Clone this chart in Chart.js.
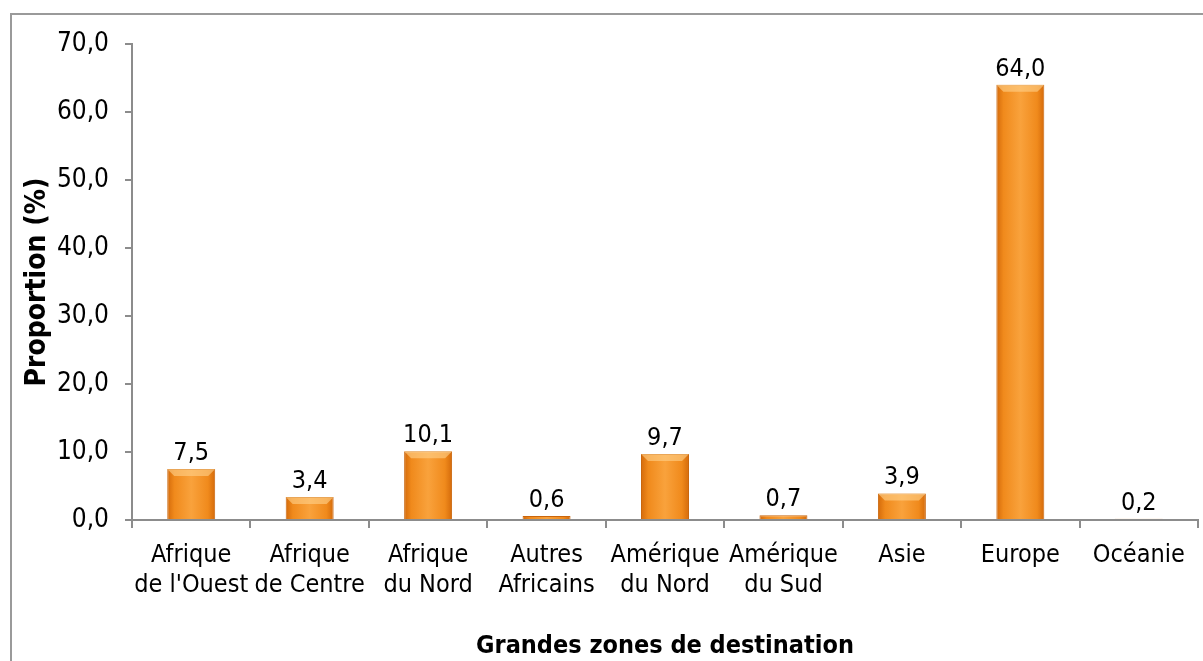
<!DOCTYPE html>
<html>
<head>
<meta charset="utf-8">
<script src="https://cdn.jsdelivr.net/npm/chart.js@4"></script>
<style>
  html, body { margin: 0; padding: 0; background: #fff; }
  #wrap { position: relative; width: 1203px; height: 661px; overflow: hidden; }
  #frame { position: absolute; left: 10px; top: 13px; width: 1300px; height: 700px;
           border-left: 2px solid #9a9a9a; border-top: 2px solid #9a9a9a; }
  #chart { position: absolute; left: 0; top: 0; }
</style>
</head>
<body>
<div id="wrap">
  <div id="frame"></div>
  <canvas id="chart" width="1203" height="661"></canvas>
</div>
<script>
// zones de destination
const zones = [
    ['Afrique', "de l'Ouest"],
    ['Afrique', 'de Centre'],
    ['Afrique', 'du Nord'],
    ['Autres', 'Africains'],
    ['Amérique', 'du Nord'],
    ['Amérique', 'du Sud'],
    ['Asie'],
    ['Europe'],
    ['Océanie']
];
const proportions = [7.5, 3.4, 10.1, 0.6, 9.7, 0.7, 3.9, 64.0, 0.2];
const yTicks = [0, 10, 20, 30, 40, 50, 60, 70];

const fontFam = '"DejaVu Sans Condensed", "DejaVu Sans", sans-serif';
const fmt = v => v.toFixed(1).replace('.', ',');

// dégradé orange façon Excel
function barFill(c) {
    const chart = c.chart;
    const x = chart.scales.x;
    if (!x || !chart.chartArea) return '#F39228';
    const cx = x.getPixelForValue(c.dataIndex);
    const half = (x.width / zones.length) * 0.405 / 2;
    const g = chart.ctx.createLinearGradient(cx - half, 0, cx + half, 0);
    g.addColorStop(0, '#D46A0A');
    g.addColorStop(0.15, '#F08A1C');
    g.addColorStop(0.5, '#F9A23C');
    g.addColorStop(0.85, '#F08A1C');
    g.addColorStop(1, '#D46A0A');
    return g;
}

// étiquettes de valeurs + reflet en haut des barres
const valueLabels = {
    id: 'valueLabels',
    afterDatasetsDraw(chart) {
        const ctx = chart.ctx;
        const meta = chart.getDatasetMeta(0);
        ctx.save();
        meta.data.forEach((bar, i) => {
            const w = bar.width;
            const h = bar.base - bar.y;
            if (h > 4) {
                const t = Math.min(7, h / 3);
                ctx.fillStyle = 'rgba(255, 210, 140, 0.6)';
                ctx.beginPath();
                ctx.moveTo(bar.x - w / 2, bar.y);
                ctx.lineTo(bar.x + w / 2, bar.y);
                ctx.lineTo(bar.x + w / 2 - t, bar.y + t);
                ctx.lineTo(bar.x - w / 2 + t, bar.y + t);
                ctx.closePath();
                ctx.fill();
            }
            ctx.fillStyle = '#000';
            ctx.font = '25px ' + fontFam;
            ctx.textAlign = 'center';
            ctx.textBaseline = 'bottom';
            ctx.fillText(fmt(proportions[i]), bar.x, bar.y - 3);
        });
        ctx.restore();
    }
};

const ctx = document.getElementById('chart').getContext('2d');
const chart = new Chart(ctx, {
    type: 'bar',
    data: {
        labels: zones,
        datasets: [{
            data: proportions,
            backgroundColor: barFill,
            borderColor: '#C9650C',
            borderWidth: 1,
            barPercentage: 0.45,
            categoryPercentage: 0.9
        }]
    },
    options: {
        responsive: false,
        animation: false,
        layout: { padding: { left: 21, right: 5, top: 44, bottom: 0 } },
        plugins: {
            legend: { display: false },
            tooltip: { enabled: false }
        },
        scales: {
            y: {
                min: 0,
                max: 70,
                afterBuildTicks: s => { s.ticks = yTicks.map(v => ({ value: v })); },
                afterFit: s => { s.width = 111; },
                border: { color: '#8c8c8c', width: 2 },
                grid: { drawOnChartArea: false, color: '#8c8c8c', tickLength: 7, lineWidth: 2 },
                ticks: {
                    color: '#000',
                    font: { family: fontFam, size: 26 },
                    padding: 16,
                    callback: v => fmt(v)
                },
                title: {
                    display: true,
                    text: 'Proportion (%)',
                    color: '#000',
                    font: { family: fontFam, size: 28, weight: 'bold' },
                    padding: { top: 0, bottom: 0 }
                }
            },
            x: {
                border: { color: '#8c8c8c', width: 2 },
                grid: { drawOnChartArea: false, color: '#8c8c8c', tickLength: 8, lineWidth: 2, offset: true },
                ticks: {
                    color: '#000',
                    font: { family: fontFam, size: 25 },
                    maxRotation: 0,
                    autoSkip: false,
                    padding: 12
                },
                title: {
                    display: true,
                    text: 'Grandes zones de destination',
                    color: '#000',
                    font: { family: fontFam, size: 25, weight: 'bold' },
                    padding: { top: 19, bottom: 0 }
                }
            }
        }
    },
    plugins: [valueLabels]
});
</script>
</body>
</html>
